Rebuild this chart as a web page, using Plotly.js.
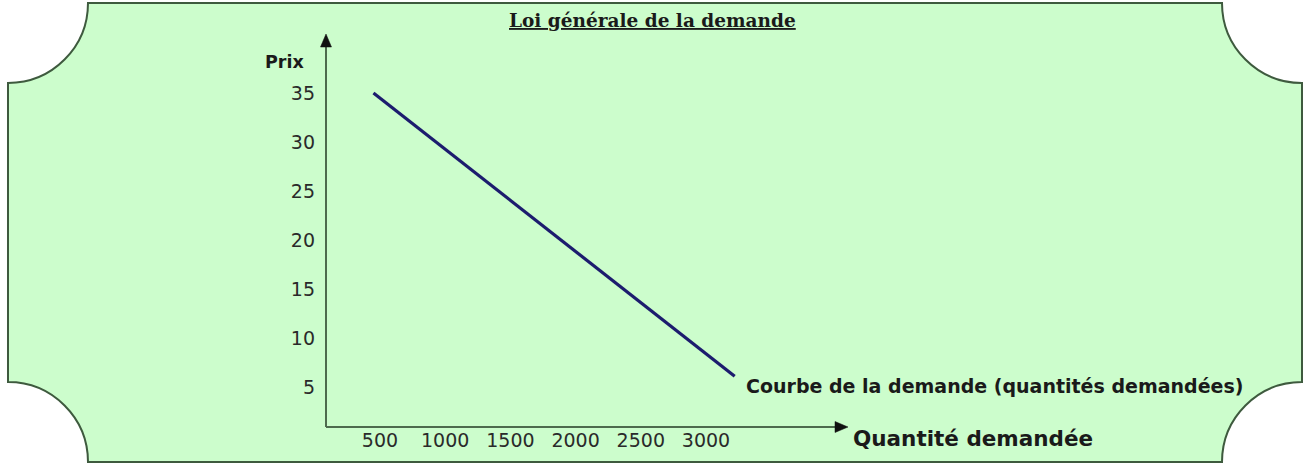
<!DOCTYPE html>
<html><head><meta charset="utf-8">
<script src="https://cdn.plot.ly/plotly-3.0.1.min.js"></script>
<style>html,body{margin:0;padding:0;background:#fff;}#chart{width:1311px;height:464px;}</style>
</head><body><div id="chart"></div>
<script>
// Data
const quantities = [450, 3220];
const prices = [35, 6.1];
const xTickVals = [500, 1000, 1500, 2000, 2500, 3000];
const xTickText = ['500', '1000', '1500', '2000', '2500', '3000'];
const yTickVals = [5, 10, 15, 20, 25, 30, 35];
const yTickText = ['5', '10', '15', '20', '25', '30', '35'];
const titleText = 'Loi générale de la demande';
const yLabel = 'Prix';
const xLabel = 'Quantité demandée';
const curveLabel = 'Courbe de la demande (quantités demandées)';

const W = 1311, H = 464;
const L = 326, R = 848, T = 34, B = 427;
const px = x => (x - L) / (R - L);
const py = y => (B - y) / (B - T);

// Frame with concave corners (pixel geometry converted to paper coords)
function framePath() {
  const x0 = 8, y0 = 3, x1 = 1302, y1 = 462, r = 80, k = 0.5523;
  const P = (x, y) => px(x).toFixed(5) + ',' + py(y).toFixed(5);
  return 'M' + P(x0 + r, y0) +
    ' L' + P(x1 - r, y0) +
    ' C' + P(x1 - r, y0 + k * r) + ' ' + P(x1 - k * r, y0 + r) + ' ' + P(x1, y0 + r) +
    ' L' + P(x1, y1 - r) +
    ' C' + P(x1 - k * r, y1 - r) + ' ' + P(x1 - r, y1 - k * r) + ' ' + P(x1 - r, y1) +
    ' L' + P(x0 + r, y1) +
    ' C' + P(x0 + r, y1 - k * r) + ' ' + P(x0 + k * r, y1 - r) + ' ' + P(x0, y1 - r) +
    ' L' + P(x0, y0 + r) +
    ' C' + P(x0 + k * r, y0 + r) + ' ' + P(x0 + r, y0 + k * r) + ' ' + P(x0 + r, y0) + ' Z';
}
function tri(pts) {
  return 'M' + pts.map(p => px(p[0]).toFixed(5) + ',' + py(p[1]).toFixed(5)).join(' L') + ' Z';
}
const axisColor = '#4d6b4d';

const shapes = [
  {type: 'path', xref: 'paper', yref: 'paper', path: framePath(), fillcolor: '#ccfdcc',
   line: {color: '#3e5a3e', width: 2}, layer: 'below'},
  // y axis line + arrow
  {type: 'line', xref: 'paper', yref: 'paper', x0: 0, x1: 0, y0: 0, y1: py(44), line: {color: axisColor, width: 2}},
  {type: 'path', xref: 'paper', yref: 'paper', path: tri([[326, 34], [320.5, 47], [331.5, 47]]),
   fillcolor: '#111', line: {color: '#111', width: 0.5}},
  // x axis line + arrow
  {type: 'line', xref: 'paper', yref: 'paper', x0: 0, x1: px(840), y0: 0, y1: 0, line: {color: axisColor, width: 2}},
  {type: 'path', xref: 'paper', yref: 'paper', path: tri([[848, 427], [835, 421.5], [835, 432.5]]),
   fillcolor: '#111', line: {color: '#111', width: 0.5}}
];

const annotations = [
  {xref: 'paper', yref: 'paper', x: px(652), y: py(21), text: '<u>' + titleText + '</u>', showarrow: false,
   xanchor: 'center', yanchor: 'middle', font: {family: 'DejaVu Serif', size: 18.5, color: '#1a1a1a', weight: 'bold'}},
  {xref: 'paper', yref: 'paper', x: px(284), y: py(62), text: yLabel, showarrow: false,
   xanchor: 'center', yanchor: 'middle', font: {family: 'DejaVu Sans', size: 17.5, color: '#1a1a1a', weight: 'bold'}},
  {xref: 'paper', yref: 'paper', x: px(851), y: py(438), text: xLabel, showarrow: false,
   xanchor: 'left', yanchor: 'middle', font: {family: 'DejaVu Sans', size: 21.5, color: '#1a1a1a', weight: 'bold'}},
  {xref: 'paper', yref: 'paper', x: px(744), y: py(386), text: curveLabel, showarrow: false,
   xanchor: 'left', yanchor: 'middle', font: {family: 'DejaVu Sans', size: 19, color: '#1a1a1a', weight: 'bold'}}
];

const trace = {
  x: quantities, y: prices, type: 'scatter', mode: 'lines',
  line: {color: '#1c1c6e', width: 3.2}, hoverinfo: 'skip'
};

const layout = {
  width: W, height: H,
  margin: {l: L, r: W - R, t: T, b: H - B, pad: 0},
  paper_bgcolor: '#ffffff', plot_bgcolor: 'rgba(0,0,0,0)',
  showlegend: false,
  xaxis: {range: [86, 4089], tickvals: xTickVals, ticktext: xTickText, showgrid: false, zeroline: false,
          showline: false, ticks: '', ticklabelstandoff: 0,
          tickfont: {family: 'DejaVu Sans', size: 19, color: '#2a2a2a'}, fixedrange: true},
  yaxis: {range: [0.918, 41.02], tickvals: yTickVals, ticktext: yTickText, showgrid: false, zeroline: false,
          showline: false, ticks: '', ticklabelstandoff: 10,
          tickfont: {family: 'DejaVu Sans', size: 19, color: '#2a2a2a'}, fixedrange: true},
  shapes: shapes, annotations: annotations
};

Plotly.newPlot('chart', [trace], layout, {displayModeBar: false, staticPlot: true});
</script></body></html>
